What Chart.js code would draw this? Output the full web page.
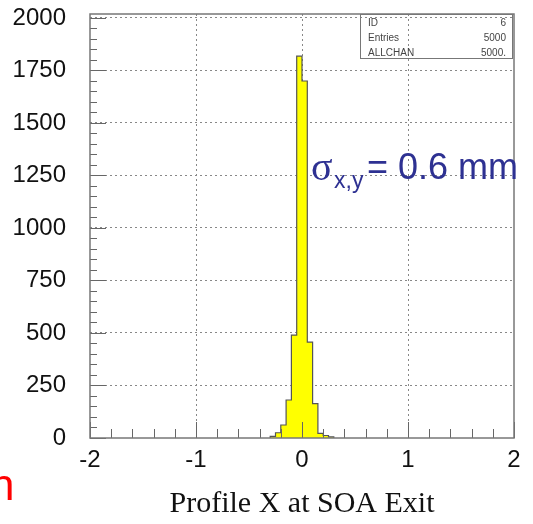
<!DOCTYPE html>
<html><head><meta charset="utf-8">
<script src="https://cdn.jsdelivr.net/npm/chart.js@4"></script>
<style>
html,body{margin:0;padding:0;background:#fff;overflow:hidden}
#wrap{position:relative;width:533px;height:524px;overflow:hidden}
canvas{position:absolute;left:0;top:0}
.t{position:absolute;white-space:nowrap;line-height:1}
#stats{position:absolute;left:360px;top:14px;width:153px;height:45px;border:1px solid #777;box-sizing:border-box;font:10px "Liberation Sans",Arial,sans-serif;color:#444}
#stats div{position:absolute;left:7px;right:6px;height:12px;line-height:12px}
#stats span{float:right}
</style></head><body>
<div id="wrap">
<canvas id="c" width="533" height="524"></canvas>
<div id="stats">
  <div style="top:2px">ID<span>6</span></div>
  <div style="top:17px">Entries<span>5000</span></div>
  <div style="top:32px">ALLCHAN<span>5000.</span></div>
</div>
<span class="t" style="left:311px;top:143px;font:40px 'Liberation Serif',serif;color:#2e3192">σ</span>
<span class="t" style="left:334px;top:167px;font:23px 'Liberation Sans',Arial,sans-serif;color:#2e3192">x,y</span>
<span class="t" style="left:367px;top:146px;font:36px 'Liberation Sans',Arial,sans-serif;color:#2e3192">= 0.6 mm</span>
<span class="t" style="left:-10px;top:460px;font:44px 'Liberation Sans',Arial,sans-serif;color:#ff0000">n</span>
</div>
<script>
const binStart = [-0.3, -0.25, -0.2, -0.15, -0.1, -0.05, 0, 0.05, 0.1, 0.15, 0.2, 0.25];
const binWidth = 0.05;
const counts = [8, 25, 62, 181, 490, 1818, 1700, 457, 164, 22, 12, 5];
const xTickValues = [-2, -1, 0, 1, 2];
const yTickValues = [0, 250, 500, 750, 1000, 1250, 1500, 1750, 2000];
const xTitle = 'Profile X at SOA Exit';

const pts = [{x: binStart[0], y: 0}];
binStart.forEach((b, i) => pts.push({x: b, y: counts[i]}));
pts.push({x: binStart[binStart.length - 1] + binWidth, y: 0});

const frame = {
  id: 'frame',
  afterDraw(ch) {
    const {ctx, chartArea: a, scales: {x, y}} = ch;
    ctx.save();
    ctx.strokeStyle = '#666';
    ctx.lineWidth = 1;
    for (let k = 0; k <= 40; k++) {
      const v = k * 50;
      const py = Math.round(y.getPixelForValue(v)) + 0.5;
      const len = (k % 5 === 0) ? 16 : 7;
      ctx.beginPath(); ctx.moveTo(a.left, py); ctx.lineTo(a.left + len, py); ctx.stroke();
    }
    for (let i = 0; i <= 20; i++) {
      const v = -2 + i * 0.2;
      const px = Math.round(x.getPixelForValue(v)) + 0.5;
      const len = (i % 5 === 0) ? 16 : 9;
      ctx.beginPath(); ctx.moveTo(px, a.bottom); ctx.lineTo(px, a.bottom - len); ctx.stroke();
    }
    ctx.strokeStyle = '#777';
    ctx.lineWidth = 1.5;
    ctx.strokeRect(a.left, a.top, a.right - a.left, a.bottom - a.top);
    ctx.restore();
  }
};

new Chart(document.getElementById('c'), {
  type: 'line',
  data: {
    datasets: [{
      data: pts,
      stepped: true,
      fill: 'origin',
      backgroundColor: '#ffff00',
      borderColor: '#555',
      borderWidth: 1.2,
      pointRadius: 0
    }]
  },
  options: {
    responsive: false,
    animation: false,
    devicePixelRatio: 1,
    layout: {padding: {top: 14, right: 19, left: 0, bottom: 0}},
    plugins: {legend: {display: false}, tooltip: {enabled: false}},
    scales: {
      x: {
        type: 'linear', min: -2, max: 2, z: 1,
        afterBuildTicks: s => { s.ticks = xTickValues.map(v => ({value: v})); },
        afterFit: s => { s.height = 86; s.paddingLeft = 0; s.paddingRight = 0; },
        grid: {color: c => (c.tick && (c.tick.value === -2 || c.tick.value === 2)) ? 'rgba(0,0,0,0)' : '#888', lineWidth: 1, drawTicks: false},
        border: {display: false, dash: [2, 3]},
        ticks: {color: '#111', padding: 8, font: {family: 'Liberation Sans', size: 24}, maxRotation: 0, callback: v => String(v)},
        title: {display: true, text: xTitle, color: '#111', font: {family: 'Liberation Serif', size: 30}, padding: {top: 0, bottom: 2}}
      },
      y: {
        type: 'linear', min: 0, max: 2019, z: 1,
        afterBuildTicks: s => { s.ticks = yTickValues.map(v => ({value: v})); },
        afterFit: s => { s.width = 90; s.paddingTop = 0; s.paddingBottom = 0; },
        grid: {color: c => (c.tick && c.tick.value === 0) ? 'rgba(0,0,0,0)' : '#888', lineWidth: 1, drawTicks: false},
        border: {display: false, dash: [2, 3]},
        ticks: {color: '#111', padding: 24, font: {family: 'Liberation Sans', size: 24}, callback: v => String(v)}
      }
    }
  },
  plugins: [frame]
});
</script>
</body></html>
